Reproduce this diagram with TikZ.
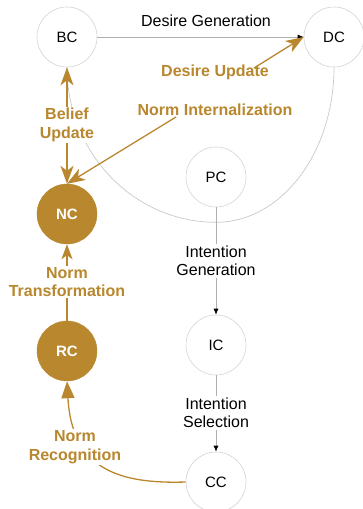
\documentclass[tikz,border=0pt]{standalone}
\usepackage{fontspec}
\setmainfont{Liberation Sans}
\usetikzlibrary{arrows.meta}
\definecolor{gold}{RGB}{184,135,46}
\definecolor{ringgray}{RGB}{212,212,212}
\definecolor{linegray}{RGB}{175,175,175}
\definecolor{arcgray}{RGB}{200,200,200}
\tikzset{goldtip/.tip={Stealth[length=18pt,width=13pt,inset=5pt]}}
\begin{document}
\begin{tikzpicture}[x=1pt,y=-1pt,
  state/.style={circle,draw=ringgray,line width=0.6pt,fill=white,minimum size=60pt,inner sep=0pt,font=\fontsize{15}{18}\selectfont},
  normstate/.style={circle,fill=gold,draw=gold,minimum size=60pt,inner sep=0pt,text=white,font=\fontsize{15}{18}\selectfont\bfseries},
  blacklab/.style={fill=white,inner sep=1.5pt,align=center,font=\fontsize{16}{18.5}\selectfont},
  goldlab/.style={fill=white,inner sep=1.5pt,align=center,text=gold,font=\fontsize{16}{18.5}\selectfont\bfseries},
  grayline/.style={draw=linegray,line width=0.7pt},
  blackarrow/.style={grayline,-{Latex[length=6pt,width=5pt,color=black]}},
  goldline/.style={draw=gold,line width=1.3pt},
]
\useasboundingbox (0,0) rectangle (363,509);
% nodes
\node[state] (BC) at (67,37) {BC};
\node[state] (DC) at (334,37) {DC};
\node[state] (PC) at (216,177) {PC};
\node[normstate] (NC) at (67,214) {NC};
\node[normstate] (RC) at (67,351) {RC};
\node[state] (IC) at (216,345) {IC};
\node[state] (CC) at (216,482) {CC};
% merging arcs into intention generation
\draw[draw=arcgray,line width=0.7pt] (BC.south) arc[start angle=180,end angle=270,x radius=149pt,y radius=155pt] coordinate (join);
\draw[draw=arcgray,line width=0.7pt] (DC.south) arc[start angle=0,end angle=-90,x radius=118pt,y radius=155pt];
% black process edges
\draw[blackarrow] (BC.east) -- (DC.west);
\node[font=\fontsize{16}{18.5}\selectfont] (dg) at (206,21) {Desire Generation};
\draw[blackarrow] (PC.south) -- (IC.north);
\node[blacklab] (ig) at (216,261) {Intention\\Generation};
\draw[blackarrow] (IC.south) -- (CC.north);
\node[blacklab] (is) at (216,413) {Intention\\Selection};
% gold norm edges
\draw[goldline,goldtip-goldtip] (BC.south) -- (NC.north);
\node[goldlab] (bu) at (67,125) {Belief\\Update};
\coordinate (duend) at (254,68);
\coordinate (niend) at (176,117);
\draw[goldline,-goldtip] (duend) -- (DC.west);
\draw[goldline,-goldtip] (niend) -- (NC.north);
\node[goldlab,fill=none] (du) at (215,72) {Desire Update};
\node[goldlab,fill=none] (ni) at (215,110) {Norm Internalization};
\draw[goldline,-{Stealth[length=15pt,width=11pt,inset=4pt]}] (RC.north) -- (NC.south);
\node[goldlab] (nt) at (67,282) {Norm\\Transformation};
\draw[goldline,-{Triangle[length=17pt,width=13pt]}] (CC.west) .. controls (120,484) and (72,470) .. (RC.south);
\node[goldlab] (nr) at (75,447) {Norm\\Recognition};
\end{tikzpicture}
\end{document}
